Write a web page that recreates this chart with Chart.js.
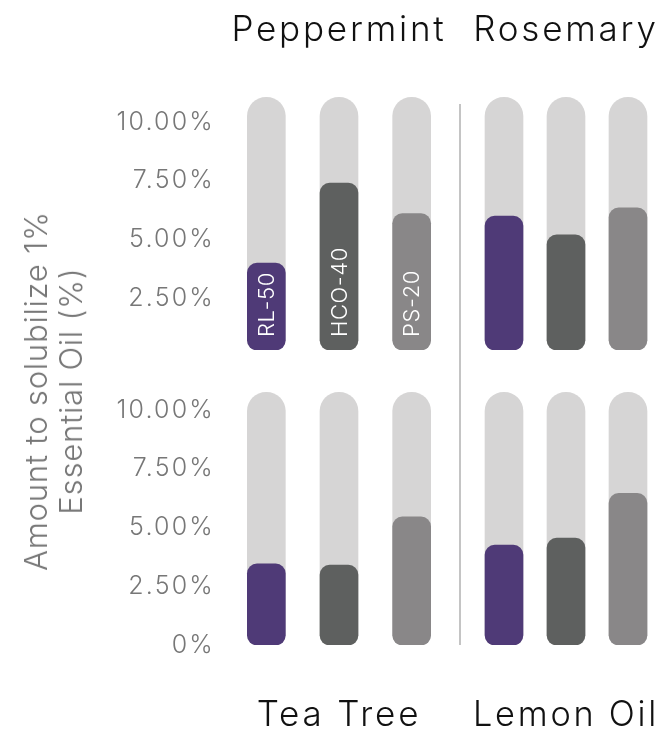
<!DOCTYPE html>
<html>
<head>
<meta charset="utf-8">
<script src="https://cdn.jsdelivr.net/npm/chart.js@4/dist/chart.umd.min.js"></script>
<style>
  html, body { margin: 0; padding: 0; background: #fff; }
  #wrap { position: relative; width: 670px; height: 737px; overflow: hidden; font-family: Inter, sans-serif; }
  .box { position: absolute; }
  #sep { position: absolute; left: 459px; top: 104px; width: 2px; height: 541px; background: #c4c4c4; }
  #ytitle {
    position: absolute; left: 53px; top: 391px;
    transform: translate(-50%, -50%) rotate(-90deg);
    font-size: 31px; line-height: 35px; letter-spacing: 0.8px; color: #777; font-weight: 300;
    text-align: center; white-space: nowrap;
  }
</style>
</head>
<body>
<div id="wrap">
  <div class="box" style="left:0;top:0;width:460px;height:360px"><canvas id="c0"></canvas></div>
  <div class="box" style="left:460px;top:0;width:210px;height:360px"><canvas id="c1"></canvas></div>
  <div class="box" style="left:0;top:360px;width:460px;height:377px"><canvas id="c2"></canvas></div>
  <div class="box" style="left:460px;top:360px;width:210px;height:377px"><canvas id="c3"></canvas></div>
  <div id="sep"></div>
  <div id="ytitle">Amount to solubilize 1%<br>Essential Oil (%)</div>
</div>
<script>
// Data
const categories = ['RL-50', 'HCO-40', 'PS-20'];
const oils = ['Peppermint', 'Rosemary', 'Tea Tree', 'Lemon Oil'];
const peppermint = [3.7, 7.1, 5.8];
const rosemary = [5.7, 4.9, 6.05];
const teaTree = [3.45, 3.4, 5.45];
const lemonOil = [4.25, 4.55, 6.45];
const capacity = [10.75, 10.75, 10.75];   // light grey track behind each bar
const tickValues = [0, 2.5, 5, 7.5, 10];

const barColors = ['#4f3a77', '#5e605f', '#898788'];

Chart.defaults.font.family = 'Inter, sans-serif';
Chart.defaults.color = '#777';

// wrap a draw method so its text gets extra letter spacing
function spaced(obj, method, spacing) {
  const orig = obj[method];
  obj[method] = function (...args) {
    const ctx = this.ctx;
    ctx.save();
    ctx.letterSpacing = spacing;
    orig.apply(this, args);
    ctx.restore();
  };
}

const wideText = {
  id: 'wideText',
  beforeDraw(chart) {
    if (chart._wide) return;
    chart._wide = true;
    if (chart.titleBlock) spaced(chart.titleBlock, 'draw', '2.8px');
    if (chart.scales.y) spaced(chart.scales.y, 'drawLabels', '2.2px');
  }
};

// white rotated names inside the bars (first panel only)
const barNames = {
  id: 'barNames',
  afterDatasetsDraw(chart) {
    const meta = chart.getDatasetMeta(0);
    const ctx = chart.ctx;
    ctx.save();
    ctx.fillStyle = '#ffffff';
    ctx.font = '300 22px Inter, sans-serif';
    ctx.letterSpacing = '0.6px';
    ctx.textAlign = 'left';
    ctx.textBaseline = 'middle';
    meta.data.forEach((bar, i) => {
      ctx.save();
      ctx.translate(bar.x + 1, chart.chartArea.bottom - 13);
      ctx.rotate(-Math.PI / 2);
      ctx.fillText(categories[i], 0, 0);
      ctx.restore();
    });
    ctx.restore();
  }
};

function makeChart(id, title, values, isLeft, isTop) {
  const plugins = [wideText];
  if (id === 'c0') plugins.push(barNames);
  return new Chart(document.getElementById(id), {
    type: 'bar',
    data: {
      labels: categories,
      datasets: [
        {
          data: values,
          backgroundColor: barColors,
          borderRadius: 10,
          borderSkipped: false,
          barThickness: 38,
          grouped: false,
          order: 0
        },
        {
          data: capacity,
          backgroundColor: '#d6d5d5',
          borderRadius: { topLeft: 19, topRight: 19, bottomLeft: 10, bottomRight: 10 },
          borderSkipped: false,
          barThickness: 38,
          grouped: false,
          order: 1
        }
      ]
    },
    options: {
      responsive: true,
      maintainAspectRatio: false,
      animation: false,
      layout: {
        padding: {
          left: isLeft ? 0 : 13,
          right: isLeft ? 12 : 11,
          top: isTop ? 0 : 26.5,
          bottom: isTop ? 10 : 0
        }
      },
      plugins: {
        legend: { display: false },
        tooltip: { enabled: false },
        title: {
          display: true,
          text: title,
          position: isTop ? 'top' : 'bottom',
          fullSize: false,
          color: '#111111',
          font: { size: 35, weight: '300' },
          padding: isTop ? { top: 9, bottom: 40.5 } : { top: 49, bottom: 1 }
        }
      },
      scales: {
        x: { display: false },
        y: {
          display: isLeft,
          min: 0,
          max: 11,
          afterBuildTicks(scale) {
            scale.ticks = tickValues.map(v => ({ value: v }));
          },
          afterFit(scale) {
            if (!isLeft) return;
            scale.width = 230;
            scale.paddingTop = 0;
            scale.paddingBottom = 0;
          },
          grid: { display: false, drawTicks: false },
          border: { display: false },
          ticks: {
            padding: 15,
            labelOffset: isTop ? 7 : 0,
            color: '#777',
            font: { size: 25, weight: '300' },
            callback(v) {
              if (v === 0) return isTop ? '' : '0%';
              return v.toFixed(2) + '%';
            }
          }
        }
      }
    },
    plugins: plugins
  });
}

makeChart('c0', oils[0], peppermint, true, true);
makeChart('c1', oils[1], rosemary, false, true);
makeChart('c2', oils[2], teaTree, true, false);
makeChart('c3', oils[3], lemonOil, false, false);
</script>
</body>
</html>
